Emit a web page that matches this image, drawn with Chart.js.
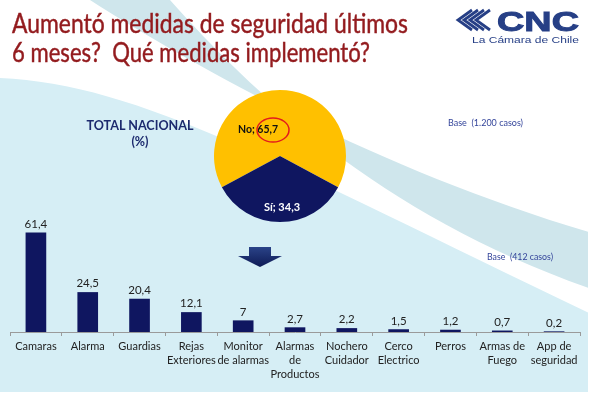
<!DOCTYPE html>
<html>
<head>
<meta charset="utf-8">
<script src="https://cdn.jsdelivr.net/npm/chart.js@4"></script>
<style>
  html, body { margin: 0; padding: 0; background: #fff; }
  #wrap { position: relative; width: 589px; height: 396px; overflow: hidden; }
  #barras { position: absolute; left: 0; top: 0; }
  #torta { position: absolute; left: 210px; top: 86px; }
  #textos { position: absolute; left: 0; top: 0; pointer-events: none; }
</style>
</head>
<body>
<div id="wrap">
  <canvas id="barras" width="589" height="396"></canvas>
  <canvas id="torta" width="140" height="140"></canvas>
  <svg id="textos" width="589" height="396" xmlns="http://www.w3.org/2000/svg">
    <!-- titulo -->
    <g fill="#931b1e" stroke="#931b1e" stroke-width="0.45">
      <text x="12" y="33" font-family="Lato" font-size="26" textLength="396" lengthAdjust="spacingAndGlyphs">Aumentó medidas de seguridad últimos</text>
      <text x="12" y="62" font-family="Lato" font-size="26" textLength="358" lengthAdjust="spacingAndGlyphs" xml:space="preserve">6 meses?  Qué medidas implementó?</text>
    </g>
    <!-- logo CNC -->
    <g stroke="#263f86" stroke-width="2.8" fill="none">
      <polyline points="472,10 458,20 472,30"/>
      <polyline points="478,10 464,20 478,30"/>
      <polyline points="484,10 470,20 484,30"/>
      <polyline points="490,10 476,20 490,30"/>
    </g>
    <text x="497" y="31" font-family="Liberation Sans" font-weight="bold" font-size="28" fill="#263f86" stroke="#263f86" stroke-width="1" textLength="82" lengthAdjust="spacingAndGlyphs">CNC</text>
    <text x="472" y="43" font-family="Liberation Sans" font-size="9.5" fill="#263f86" textLength="107" lengthAdjust="spacingAndGlyphs">La Cámara de Chile</text>
    <!-- rotulos -->
    <text x="140" y="130" text-anchor="middle" font-family="Lato" font-weight="bold" font-size="12.5" fill="#1c2a6e" textLength="107" lengthAdjust="spacingAndGlyphs">TOTAL NACIONAL</text>
    <text x="140" y="146" text-anchor="middle" font-family="Lato" font-weight="bold" font-size="12.5" fill="#1c2a6e">(%)</text>
    <text x="448" y="126" font-family="Lato" font-size="8.5" fill="#33449a" textLength="75" lengthAdjust="spacingAndGlyphs" xml:space="preserve">Base  (1.200 casos)</text>
    <text x="487" y="260" font-family="Lato" font-size="8.5" fill="#33449a" textLength="66" lengthAdjust="spacingAndGlyphs" xml:space="preserve">Base  (412 casos)</text>
    <!-- flecha -->
    <defs>
      <linearGradient id="gf" x1="0" y1="0" x2="0" y2="1">
        <stop offset="0" stop-color="#2a4388"/>
        <stop offset="1" stop-color="#0e1a55"/>
      </linearGradient>
    </defs>
    <polygon points="249,247 271,247 271,256 282,256 260,267 238,256 249,256" fill="url(#gf)"/>
  </svg>
</div>
<script>
// Datos: medidas implementadas (base 412 casos)
const categorias = [
  "Camaras", "Alarma", "Guardias", ["Rejas", "Exteriores"], ["Monitor", "de alarmas"],
  ["Alarmas", "de", "Productos"], ["Nochero", "Cuidador"], ["Cerco", "Electrico"],
  "Perros", ["Armas de", "Fuego"], ["App de", "seguridad"]
];
const porcentajes = [61.4, 24.5, 20.4, 12.1, 7, 2.7, 2.2, 1.5, 1.2, 0.7, 0.2];

// Datos: aumentó medidas (base 1.200 casos)
const respuestas = ["No", "Sí"];
const respuestasValores = [65.7, 34.3];

const azul = '#0f1660';
const amarillo = '#ffc000';

function fmt(v) {
  return v.toLocaleString('es-CL');
}

// Fondo de la lamina
const fondo = {
  id: 'fondo',
  beforeDraw(chart) {
    const c = chart.ctx;
    c.save();
    c.fillStyle = '#ffffff';
    c.fillRect(0, 0, chart.width, chart.height);
    c.beginPath();
    c.rect(0, 0, 588, 392);
    c.clip();
    // zona celeste inferior
    c.fillStyle = '#d6eef5';
    c.beginPath();
    c.moveTo(0, 78);
    c.bezierCurveTo(140, 84, 280, 165, 589, 313);
    c.lineTo(589, 396);
    c.lineTo(0, 396);
    c.closePath();
    c.fill();
    // franja gris azulada
    c.fillStyle = '#cfe6ec';
    c.beginPath();
    c.moveTo(90, 0);
    c.bezierCurveTo(200, 70, 380, 170, 589, 232);
    c.lineTo(589, 288);
    c.bezierCurveTo(380, 215, 250, 90, 170, 0);
    c.closePath();
    c.fill();
    c.restore();
  }
};

// Valores sobre las barras
const valoresBarras = {
  id: 'valoresBarras',
  afterDatasetsDraw(chart) {
    const c = chart.ctx;
    const meta = chart.getDatasetMeta(0);
    c.save();
    c.font = '11.5px Lato';
    c.fillStyle = '#222';
    c.textAlign = 'center';
    c.textBaseline = 'bottom';
    meta.data.forEach((bar, i) => {
      c.fillText(fmt(porcentajes[i]), bar.x, bar.y - 3);
    });
    c.restore();
  }
};

new Chart(document.getElementById('barras'), {
  type: 'bar',
  data: {
    labels: categorias,
    datasets: [{
      data: porcentajes,
      backgroundColor: azul,
      barThickness: 20
    }]
  },
  options: {
    responsive: false,
    animation: false,
    layout: { padding: { left: 10, right: 9, top: 219, bottom: 0 } },
    plugins: { legend: { display: false }, tooltip: { enabled: false } },
    scales: {
      y: { display: false, min: 0, max: 70 },
      x: {
        grid: { offset: true, drawOnChartArea: false, tickLength: 4, color: '#9a9a9a' },
        border: { color: '#9a9a9a' },
        ticks: {
          padding: 3,
          maxRotation: 0,
          autoSkip: false,
          color: '#222',
          font: { family: 'Lato', size: 11, lineHeight: 1.3 }
        },
        afterFit(scale) { scale.height = 64; }
      }
    }
  },
  plugins: [fondo, valoresBarras]
});

// Etiquetas de la torta
const etiquetasTorta = {
  id: 'etiquetasTorta',
  afterDatasetsDraw(chart) {
    const c = chart.ctx;
    const arcs = chart.getDatasetMeta(0).data;
    const cx = arcs[0].x, cy = arcs[0].y;
    c.save();
    c.font = 'bold 10.5px Lato';
    c.textBaseline = 'middle';
    c.textAlign = 'left';
    c.fillStyle = '#111';
    const t0 = respuestas[0] + '; ';
    c.fillText(t0, cx - 42, cy - 26);
    const w0 = c.measureText(t0).width;
    c.fillText(fmt(respuestasValores[0]), cx - 42 + w0, cy - 26);
    // circulo rojo
    c.strokeStyle = '#e31a1c';
    c.lineWidth = 1.5;
    c.beginPath();
    c.ellipse(cx - 7, cy - 26, 16, 12, 0, 0, Math.PI * 2);
    c.stroke();
    c.fillStyle = '#fff';
    c.textAlign = 'center';
    c.font = 'bold 11px Lato';
    c.fillText(respuestas[1] + '; ' + fmt(respuestasValores[1]), cx + 2, cy + 51);
    c.restore();
  }
};

new Chart(document.getElementById('torta'), {
  type: 'pie',
  data: {
    labels: respuestas,
    datasets: [{
      data: respuestasValores,
      backgroundColor: [amarillo, azul],
      borderWidth: 0
    }]
  },
  options: {
    responsive: false,
    animation: false,
    rotation: -118.3,
    layout: { padding: 4 },
    plugins: { legend: { display: false }, tooltip: { enabled: false } }
  },
  plugins: [etiquetasTorta]
});
</script>
</body>
</html>
